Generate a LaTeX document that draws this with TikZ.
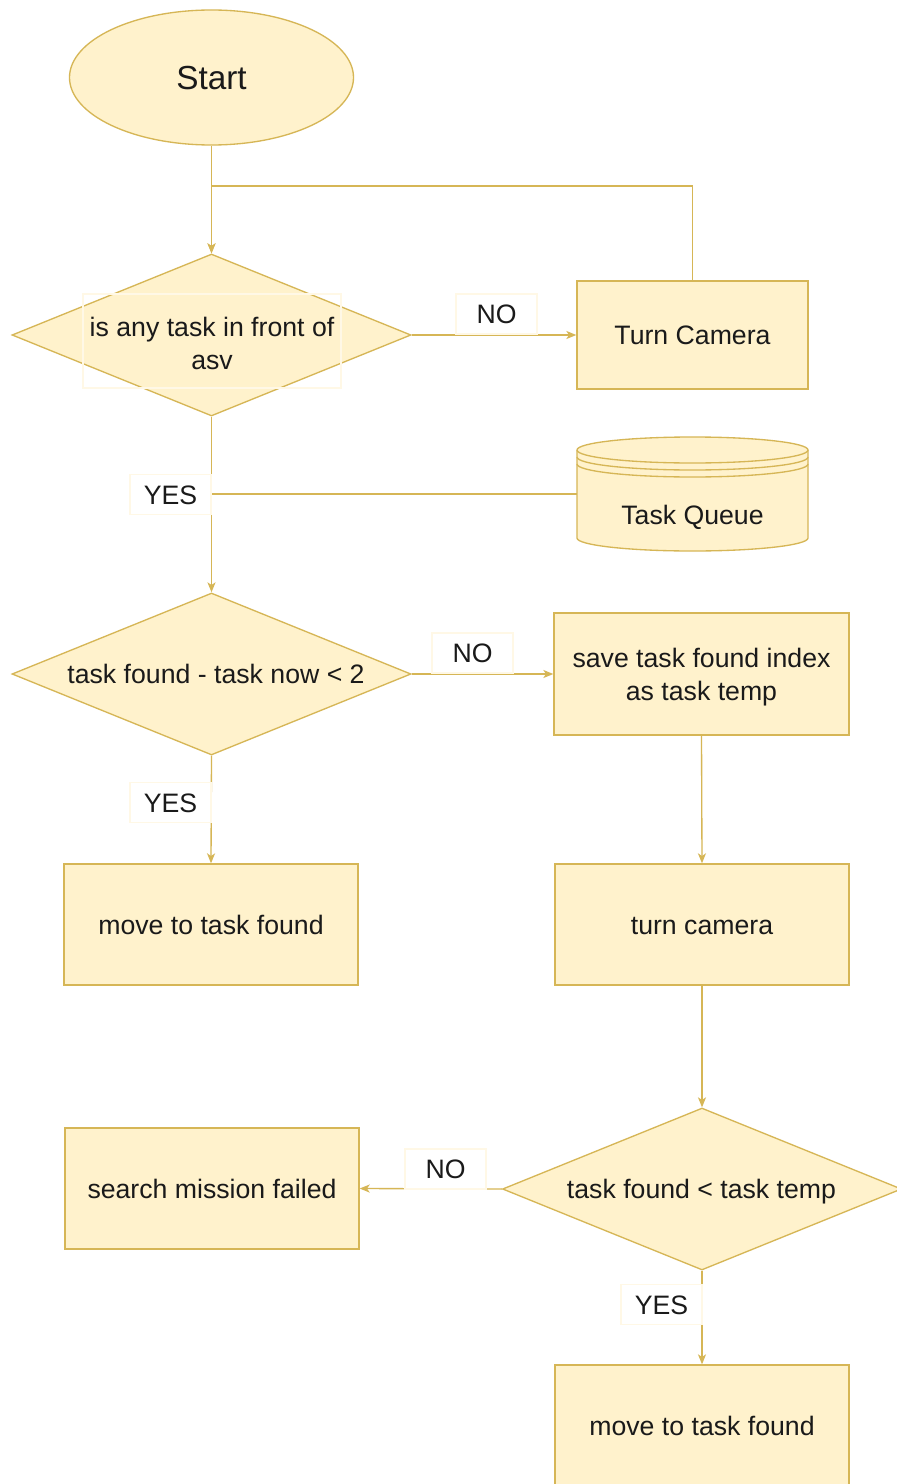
\documentclass[tikz,border=0pt]{standalone}
\usepackage{fontspec}
\setmainfont{Liberation Sans}
\usetikzlibrary{shapes.geometric,arrows.meta}
\definecolor{stk}{HTML}{D6B656}
\definecolor{fil}{HTML}{FFF2CC}
\definecolor{faint}{HTML}{FFF8E6}
\definecolor{txt}{HTML}{1A1A1A}
\begin{document}
\begin{tikzpicture}[x=0.75pt,y=-0.75pt,
 every node/.style={font=\fontsize{20}{24.75}\selectfont, text=txt},
 shp/.style={draw=stk, fill=fil, line width=1pt},
 one/.style={text height=14.3pt, text depth=0pt},
 rbox/.style={shp, rectangle, inner sep=0pt, align=center},
 dia/.style={shp, diamond, inner sep=0pt, minimum width=299.25pt, minimum height=121.5pt},
 lbl/.style={rectangle, fill=white, draw=faint, line width=0.8pt, minimum width=60.75pt, minimum height=30pt, inner sep=0pt, one},
 conn/.style={draw=stk, line width=1pt},
 arr/.style={conn, -{Stealth[length=7.5pt,width=6pt,inset=2pt]}}
]
\useasboundingbox (0,0) rectangle (896,1484);
\fill[white] (0,0) rectangle (896,1484);

% shapes
\node[shp, ellipse, minimum width=213pt, minimum height=101.25pt, inner sep=0pt,
      font=\fontsize{25}{30}\selectfont, text height=17.9pt, text depth=0pt] (start) at (211.5,77.5) {Start};
\node[dia] (d1) at (211.5,335) {};
\node[rectangle, draw=faint, line width=0.8pt, minimum width=193.5pt, minimum height=70.5pt,
      inner sep=0pt, align=center] (d1t) at (212,341) {};
\node[align=center] (d1txt) at (212,343) {is any task in front of\\asv};
\node[rbox, one, minimum width=173.25pt, minimum height=81pt] (tc) at (692.5,335) {Turn Camera};

% task queue cylinder
\path[shp] (577,450) -- (577,538) arc[start angle=180, end angle=360, x radius=86.625pt, y radius=9.75pt]
  -- (808,450) arc[start angle=0, end angle=180, x radius=86.625pt, y radius=9.75pt] -- cycle;
\draw[draw=stk, line width=1pt] (577,450) arc[start angle=180, end angle=360, x radius=86.625pt, y radius=9.75pt];
\draw[draw=stk, line width=1pt] (577,457) arc[start angle=180, end angle=360, x radius=86.625pt, y radius=9.75pt];
\draw[draw=stk, line width=1pt] (577,464) arc[start angle=180, end angle=360, x radius=86.625pt, y radius=9.75pt];
\node[minimum width=173.25pt, minimum height=85.5pt, inner sep=0pt, text height=45.8pt, text depth=0pt] (tq) at (692.5,494) {Task Queue};

\node[dia] (d2) at (211.5,674) {};
\node[one] (d2t) at (216,674) {task found - task now < 2};
\node[rbox, minimum width=221.25pt, minimum height=91.5pt] (save) at (701.5,674) {};
\node[align=center] (savet) at (701.5,677) {save task found index\\as task temp};
\node[rbox, one, minimum width=220.5pt, minimum height=90.75pt] (move1) at (211,924.5) {move to task found};
\node[rbox, one, minimum width=220.5pt, minimum height=90.75pt] (tc2) at (702,924.5) {turn camera};
\node[dia] (d3) at (702,1189) {};
\node[one] (d3t) at (701.5,1189) {task found < task temp};
\node[rbox, one, minimum width=220.5pt, minimum height=90.75pt] (search) at (212,1188.5) {search mission failed};
\node[rbox, one, minimum width=220.5pt, minimum height=90.75pt] (move2) at (702,1425.5) {move to task found};

% connectors
\coordinate (j1) at (211.5,186);
\draw[arr] (start.south) -- (d1.north);
\draw[arr] (tc.north) |- (j1) -- (d1.north);
\draw[arr] (d1.east) -- (tc.west);
\draw[arr] (d1.south) -- (d2.north);
\draw[conn] (tq.west) -- (tq.west -| d1.south);
\draw[arr] (d2.east) -- (save.west);
\draw[arr] (d2.south) -- (move1.north);
\draw[arr] (save.south) -- (tc2.north);
\draw[arr] (tc2.south) -- (d3.north);
\draw[arr] (d3.west) -- (search.east);
\draw[arr] (d3.south) -- (move2.north);

% labels
\node[lbl] (no1) at (496.5,314) {NO};
\node[lbl] (yes1) at (170.5,494.5) {YES};
\node[lbl] (no2) at (472.5,653) {NO};
\node[lbl] (yes2) at (170.5,802.5) {YES};
\node[lbl] (no3) at (445.5,1169) {NO};
\node[lbl] (yes3) at (661.5,1304.5) {YES};
\end{tikzpicture}
\end{document}
